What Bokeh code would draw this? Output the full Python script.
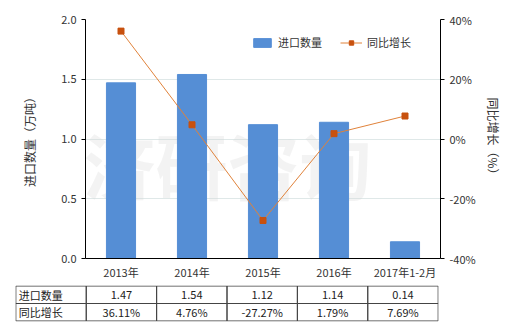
from bokeh.plotting import figure
from bokeh.models import (FactorRange, Range1d, LinearAxis, PrintfTickFormatter,
                          FixedTicker, Legend, LegendItem)
from bokeh.layouts import column, row
from bokeh.core.properties import value
from bokeh.embed import file_html
from bokeh.resources import INLINE

categories = ["2013年", "2014年", "2015年", "2016年", "2017年1-2月"]
import_qty = [1.47, 1.54, 1.12, 1.14, 0.14]
yoy_growth = [36.11, 4.76, -27.27, 1.79, 7.69]
left_ticks = [0.0, 0.5, 1.0, 1.5, 2.0]
right_ticks = [-40, -20, 0, 20, 40]
row_labels = ["进口数量", "同比增长"]

FONT = "Noto Sans CJK SC"
BAR_C = "#558ed5"
LINE_C = "#e0823a"
MARK_C = "#c8510e"

p = figure(width=520, height=282, x_range=FactorRange(*categories), y_range=Range1d(0, 2),
           output_backend="svg", toolbar_location=None,
           min_border_left=85, min_border_right=80, min_border_top=19, min_border_bottom=21)
p.extra_y_ranges = {"pct": Range1d(-40, 40)}
p.outline_line_color = None
p.background_fill_color = "white"
p.xgrid.grid_line_color = None
p.ygrid.grid_line_color = "#dfe8e8"
p.ygrid.ticker = FixedTicker(ticks=left_ticks)

# watermark
p.text(x=[2.0], y=[0.8], text=["济研咨询"], text_font=value(FONT), text_font_size="72px",
       text_color="#d8d8d8", text_alpha=0.3, text_align="center", text_baseline="middle",
       text_font_style="bold")

bars = p.vbar(x=categories, top=import_qty, width=0.41, color=BAR_C)
ln = p.line(x=categories, y=yoy_growth, y_range_name="pct", line_color=LINE_C, line_width=1)
mk = p.scatter(x=categories, y=yoy_growth, y_range_name="pct", marker="square", size=6,
               fill_color=MARK_C, line_color=MARK_C)

ya = p.yaxis[0]
ya.ticker = FixedTicker(ticks=left_ticks)
ya.formatter = PrintfTickFormatter(format="%.1f")
ya.axis_label = "进口数量（万吨）"
ya.axis_label_standoff = 20

ra = LinearAxis(y_range_name="pct", ticker=FixedTicker(ticks=right_ticks),
                formatter=PrintfTickFormatter(format="%d%%"), axis_label="同比增长（%）")
ra.axis_label_standoff = 6
p.add_layout(ra, "right")

xa = p.xaxis[0]
xa.major_label_standoff = 5

for ax in [ya, ra, xa]:
    ax.axis_line_color = "black"
    ax.major_tick_in = 0
    ax.major_tick_out = 4
    ax.minor_tick_line_color = None
    ax.minor_tick_out = 0
    ax.major_label_text_font = FONT
    ax.major_label_text_font_size = "11px"
    ax.major_label_text_color = "#333333"
    ax.axis_label_text_font = FONT
    ax.axis_label_text_font_size = "12px"
    ax.axis_label_text_font_style = "normal"
    ax.axis_label_text_color = "#333333"
    ax.major_tick_line_color = "black"
xa.major_tick_line_color = None
xa.major_tick_out = 0

legend = Legend(items=[LegendItem(label="进口数量", renderers=[bars]),
                       LegendItem(label="同比增长", renderers=[ln, mk])],
                orientation="horizontal", location=(166, 208),
                border_line_color=None, background_fill_alpha=0,
                label_text_font=FONT, label_text_font_size="11px",
                label_text_color="#333333", glyph_width=22, glyph_height=11,
                spacing=18, padding=0, margin=0, label_standoff=5)
p.add_layout(legend, "center")

# table
n = len(categories)
t = figure(width=520, height=48, x_range=Range1d(-1.505, n - 0.495), y_range=Range1d(-0.03, 2.03),
           x_axis_type=None, y_axis_type=None, output_backend="svg", toolbar_location=None,
           min_border_left=15, min_border_right=82, min_border_top=3, min_border_bottom=9)
t.outline_line_color = None
t.xgrid.grid_line_color = None
t.ygrid.grid_line_color = None

cols = list(range(-1, n))
cell_x = [c for c in cols for r in range(2)]
cell_y = [r + 0.5 for c in cols for r in range(2)]
t.rect(x=cell_x, y=cell_y, width=1, height=1, fill_color=None, line_color="#444444", line_width=1)

t.text(x=[-1.5, -1.5], y=[1.5, 0.5], text=row_labels, x_offset=3, text_font=value(FONT),
       text_font_size="11px", text_color="#222222", text_align="left", text_baseline="middle")
xs = list(range(n))
t.text(x=xs, y=[1.5] * n, text=[f"{v:.2f}" for v in import_qty], text_font=value(FONT),
       text_font_size="11px", text_color="#222222", text_align="center", text_baseline="middle")
t.text(x=xs, y=[0.5] * n, text=[f"{v:.2f}%" for v in yoy_growth], text_font=value(FONT),
       text_font_size="11px", text_color="#222222", text_align="center", text_baseline="middle")

layout = column(p, row(t), spacing=0)
open("out.html", "w").write(file_html(layout, INLINE))
